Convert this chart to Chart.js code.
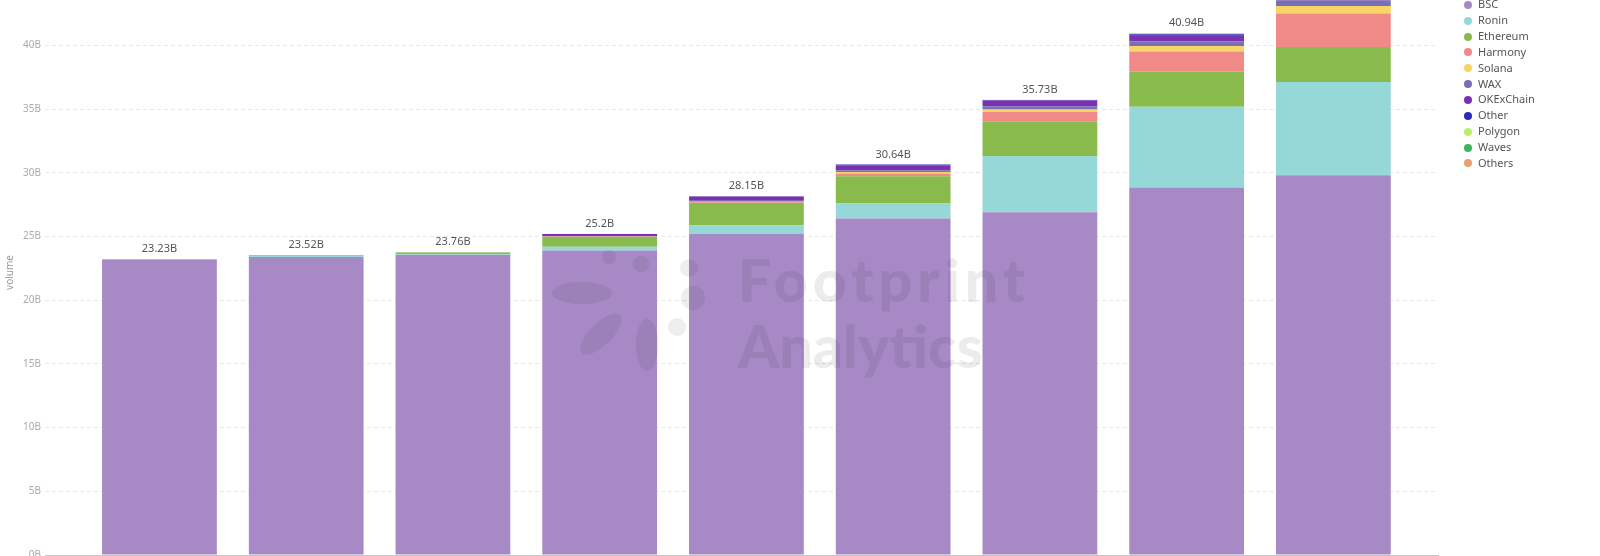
<!DOCTYPE html>
<html>
<head>
<meta charset="utf-8">
<script src="https://cdn.jsdelivr.net/npm/chart.js@4"></script>
<style>
    body { margin: 0; background: #fff; }
    #page { position: relative; width: 1600px; height: 556px; overflow: hidden; font-family: 'Noto Sans', sans-serif; }
    #chart-box { position: absolute; left: 0; top: -40px; width: 1600px; height: 640px; }
    #legend { position: absolute; left: 1464px; top: -3.6px; }
    .legend-item { height: 15.85px; line-height: 15.85px; font-size: 11px; color: #555; white-space: nowrap; }
    .legend-item span.dot { display: inline-block; width: 8px; height: 8px; border-radius: 50%; margin-right: 6px; vertical-align: -0.5px; }
    #watermark { position: absolute; left: 0; top: 0; pointer-events: none; }
    .wm-text { position: absolute; left: 738px; font-family: Lato, sans-serif; font-weight: 900; font-size: 59px; color: rgba(40, 40, 40, 0.09); line-height: 1; }
</style>
</head>
<body>
<div id="page">
    <div id="chart-box"><canvas id="volumeChart" width="1600" height="640"></canvas></div>
    <div id="watermark">
        <svg width="1600" height="556" style="position:absolute;left:0;top:0">
            <g fill="rgba(40,40,40,0.08)">
                <ellipse cx="582" cy="293" rx="30" ry="11"/>
                <ellipse cx="601" cy="334" rx="27" ry="11" transform="rotate(-45 601 334)"/>
                <ellipse cx="647" cy="345" rx="11" ry="26"/>
                <ellipse cx="693" cy="298" rx="12" ry="12"/>
                <ellipse cx="689" cy="268" rx="9" ry="9"/>
                <ellipse cx="609" cy="257" rx="7" ry="7"/>
                <ellipse cx="641" cy="264" rx="8" ry="8"/>
                <ellipse cx="677" cy="327" rx="9" ry="9"/>
            </g>
        </svg>
        <div class="wm-text" style="top:250px; letter-spacing:5px">Footprint</div>
        <div class="wm-text" style="top:316px">Analytics</div>
    </div>
    <div id="legend"></div>
</div>
<script>
// periods (x labels fall below the visible area)
const categories = ['W1', 'W2', 'W3', 'W4', 'W5', 'W6', 'W7', 'W8', 'W9'];

// volume per chain, in billions
const bsc       = [23.2, 23.38, 23.55, 23.9, 25.2, 26.41, 26.9, 28.85, 29.8];
const ronin     = [0.01, 0.08, 0.05, 0.3, 0.68, 1.17, 4.42, 6.33, 7.32];
const ethereum  = [0.02, 0.06, 0.14, 0.75, 1.75, 2.15, 2.68, 2.74, 2.75];
const harmony   = [0, 0, 0.01, 0.02, 0.05, 0.2, 0.76, 1.6, 2.62];
const solana    = [0, 0, 0, 0.02, 0.05, 0.12, 0.2, 0.42, 0.59];
const wax       = [0, 0, 0.01, 0.05, 0.12, 0.14, 0.25, 0.35, 0.45];
const okexchain = [0, 0, 0, 0.16, 0.28, 0.4, 0.45, 0.45, 0.55];
const other     = [0, 0, 0, 0, 0.02, 0.05, 0.05, 0.12, 0.15];
const polygon   = [0, 0, 0, 0, 0, 0, 0.02, 0.04, 0.05];
const waves     = [0, 0, 0, 0, 0, 0, 0, 0.02, 0.03];
const others    = [0, 0, 0, 0, 0, 0, 0, 0.02, 0.03];

const seriesNames  = ['BSC', 'Ronin', 'Ethereum', 'Harmony', 'Solana', 'WAX', 'OKExChain', 'Other', 'Polygon', 'Waves', 'Others'];
const seriesValues = [bsc, ronin, ethereum, harmony, solana, wax, okexchain, other, polygon, waves, others];
const seriesColors = ['#a689c5', '#96d8d8', '#88bb4c', '#f08a88', '#f7d465', '#7a6fb5', '#7b30b0', '#2b2bb8', '#b9f06a', '#3fb45a', '#e8a070'];

const totals = categories.map((c, i) => seriesValues.reduce((s, arr) => s + arr[i], 0));

// labels with the stack total above every bar
const totalLabels = {
    id: 'totalLabels',
    afterDatasetsDraw(chart) {
        const ctx = chart.ctx;
        const xs = chart.scales.x;
        const ys = chart.scales.y;
        ctx.save();
        ctx.font = "11px 'Noto Sans', sans-serif";
        ctx.fillStyle = '#555';
        ctx.textAlign = 'center';
        ctx.textBaseline = 'middle';
        totals.forEach((t, i) => {
            const txt = parseFloat(t.toFixed(2)) + 'B';
            ctx.fillText(txt, xs.getPixelForValue(i), ys.getPixelForValue(t) - 10);
        });
        ctx.restore();
    }
};

function buildLegend() {
    const box = document.getElementById('legend');
    seriesNames.forEach((name, k) => {
        const item = document.createElement('div');
        item.classList.add('legend-item');
        item.innerHTML = `<span class="dot" style="background:${seriesColors[k]}"></span>${name}`;
        box.appendChild(item);
    });
}

function renderChart() {
    const ctx = document.getElementById('volumeChart').getContext('2d');
    Chart.defaults.font.family = "'Noto Sans', sans-serif";
    new Chart(ctx, {
        type: 'bar',
        data: {
            labels: categories,
            datasets: seriesNames.map((name, k) => ({
                label: name,
                data: seriesValues[k].map((v, i) => ({ x: i, y: v })),
                backgroundColor: seriesColors[k],
                borderWidth: 0,
                categoryPercentage: 1,
                barPercentage: 0.782
            }))
        },
        options: {
            responsive: false,
            animation: false,
            layout: { padding: { left: 0, right: 162, top: 30, bottom: 45 } },
            plugins: { legend: { display: false }, tooltip: { enabled: false } },
            scales: {
                x: {
                    type: 'linear',
                    stacked: true,
                    offset: false,
                    min: -0.78,
                    max: categories.length - 1 + 0.713,
                    ticks: { display: false, stepSize: 1, includeBounds: false },
                    grid: { display: false, drawTicks: false },
                    border: { display: true, color: '#c8c8c8', width: 1 }
                },
                y: {
                    stacked: true,
                    min: 0,
                    max: Math.max(...totals),
                    afterFit: (scale) => { scale.width = 45; },
                    ticks: {
                        stepSize: 5,
                        includeBounds: false,
                        padding: 4,
                        color: '#aaa',
                        font: { size: 10 },
                        callback: (v) => v + 'B'
                    },
                    grid: { color: '#e8e8e8', drawTicks: false },
                    border: { display: false, dash: [4, 3] },
                    title: { display: true, text: 'volume', color: '#999', font: { size: 10 }, padding: { top: 4, bottom: 0 } }
                }
            }
        },
        plugins: [totalLabels]
    });
}

window.onload = () => {
    buildLegend();
    renderChart();
};
</script>
</body>
</html>
